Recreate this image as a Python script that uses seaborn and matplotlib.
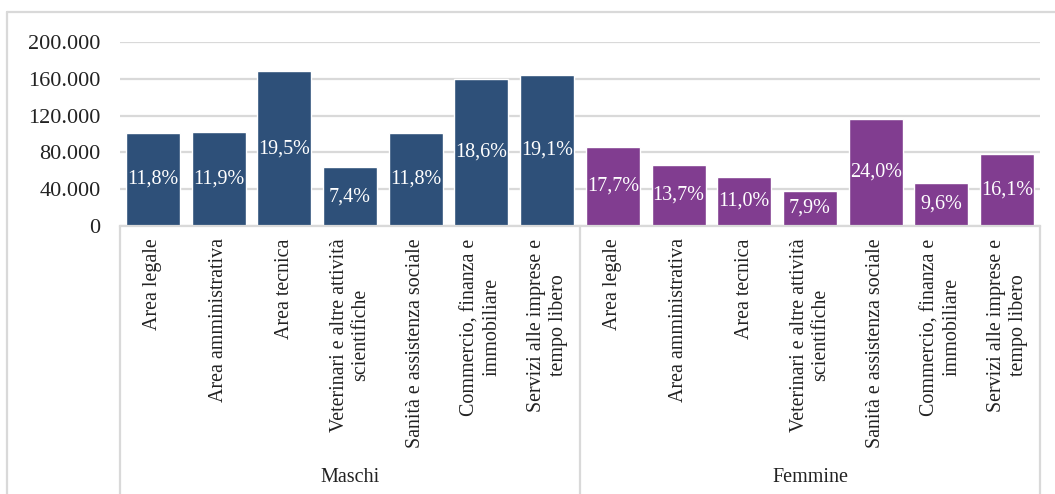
import numpy as np
import pandas as pd
import matplotlib
matplotlib.use("Agg")
import matplotlib.pyplot as plt
import seaborn as sns
from matplotlib.lines import Line2D

# data
aree = ["Area legale", "Area amministrativa", "Area tecnica",
        "Veterinari e altre attività\nscientifiche", "Sanità e assistenza sociale",
        "Commercio, finanza e\nimmobiliare", "Servizi alle imprese e\ntempo libero"]
gruppi = ["Maschi", "Femmine"]
valori_maschi = [101500, 102500, 168000, 63700, 101500, 160200, 164500]
valori_femmine = [86000, 66600, 53500, 38400, 116600, 46700, 78300]
perc_maschi = ["11,8%", "11,9%", "19,5%", "7,4%", "11,8%", "18,6%", "19,1%"]
perc_femmine = ["17,7%", "13,7%", "11,0%", "7,9%", "24,0%", "9,6%", "16,1%"]
y_ticks = [0, 40000, 80000, 120000, 160000, 200000]

colori = {"Maschi": "#2E5079", "Femmine": "#813D90"}

df = pd.DataFrame({
    "pos": [str(i) for i in range(14)],
    "area": aree + aree,
    "genere": ["Maschi"] * 7 + ["Femmine"] * 7,
    "valore": valori_maschi + valori_femmine,
    "perc": perc_maschi + perc_femmine,
})

sns.set_style("white")
plt.rcParams["font.family"] = ["Liberation Serif", "DejaVu Serif"]

fig = plt.figure(figsize=(10.55, 4.94), dpi=100)
ax = fig.add_axes([120 / 1055, 1 - 226 / 494, 920 / 1055, 184 / 494])

sns.barplot(data=df, x="pos", y="valore", hue="genere", palette=colori,
            dodge=False, width=0.82, legend=False, ax=ax, saturation=1)

ax.set_ylim(0, 200000)
ax.set_xlim(-0.5, 13.5)
ax.set_yticks(y_ticks)
ax.set_yticklabels([f"{v:,}".replace(",", ".") for v in y_ticks], fontsize=16, color="#222222")
ax.tick_params(axis="y", length=0, pad=14)
ax.yaxis.grid(True, color="#D9D9D9", linewidth=1.6)
ax.set_axisbelow(True)
ax.set_xlabel("")
ax.set_ylabel("")
for s in ["left", "right", "top"]:
    ax.spines[s].set_visible(False)
ax.spines["bottom"].set_color("#D9D9D9")
ax.spines["bottom"].set_linewidth(1.6)

# category labels
ax.set_xticks(range(14))
ax.set_xticklabels(df["area"], rotation=90, va="top", ha="center",
                   multialignment="center", fontsize=14.4, color="#222222")
ax.tick_params(axis="x", length=0, pad=9)

# percentage labels in the middle of the bars
for cont, labs in zip(ax.containers, [perc_maschi, perc_femmine]):
    ax.bar_label(cont, labels=labs, label_type="center", color="white", fontsize=14.5)

# multi-level box below the axis
tr = ax.get_xaxis_transform()
for x in [-0.5, 6.5, 13.5]:
    ax.add_line(Line2D([x, x], [0, -268 / 184], transform=tr, color="#D9D9D9",
                       linewidth=1.6, clip_on=False))
for x, g in zip([3, 10], gruppi):
    ax.text(x, -(477 - 226) / 184, g, transform=tr, ha="center", va="center",
            fontsize=14.5, color="#222222")

# outer chart frame
fig.add_artist(Line2D([7 / 1055, 1.0], [1 - 12 / 494, 1 - 12 / 494],
                      transform=fig.transFigure, color="#D9D9D9", linewidth=1.6))
fig.add_artist(Line2D([7 / 1055, 7 / 1055], [0, 1 - 12 / 494],
                      transform=fig.transFigure, color="#D9D9D9", linewidth=1.6))

fig.savefig("out.png", dpi=100)
